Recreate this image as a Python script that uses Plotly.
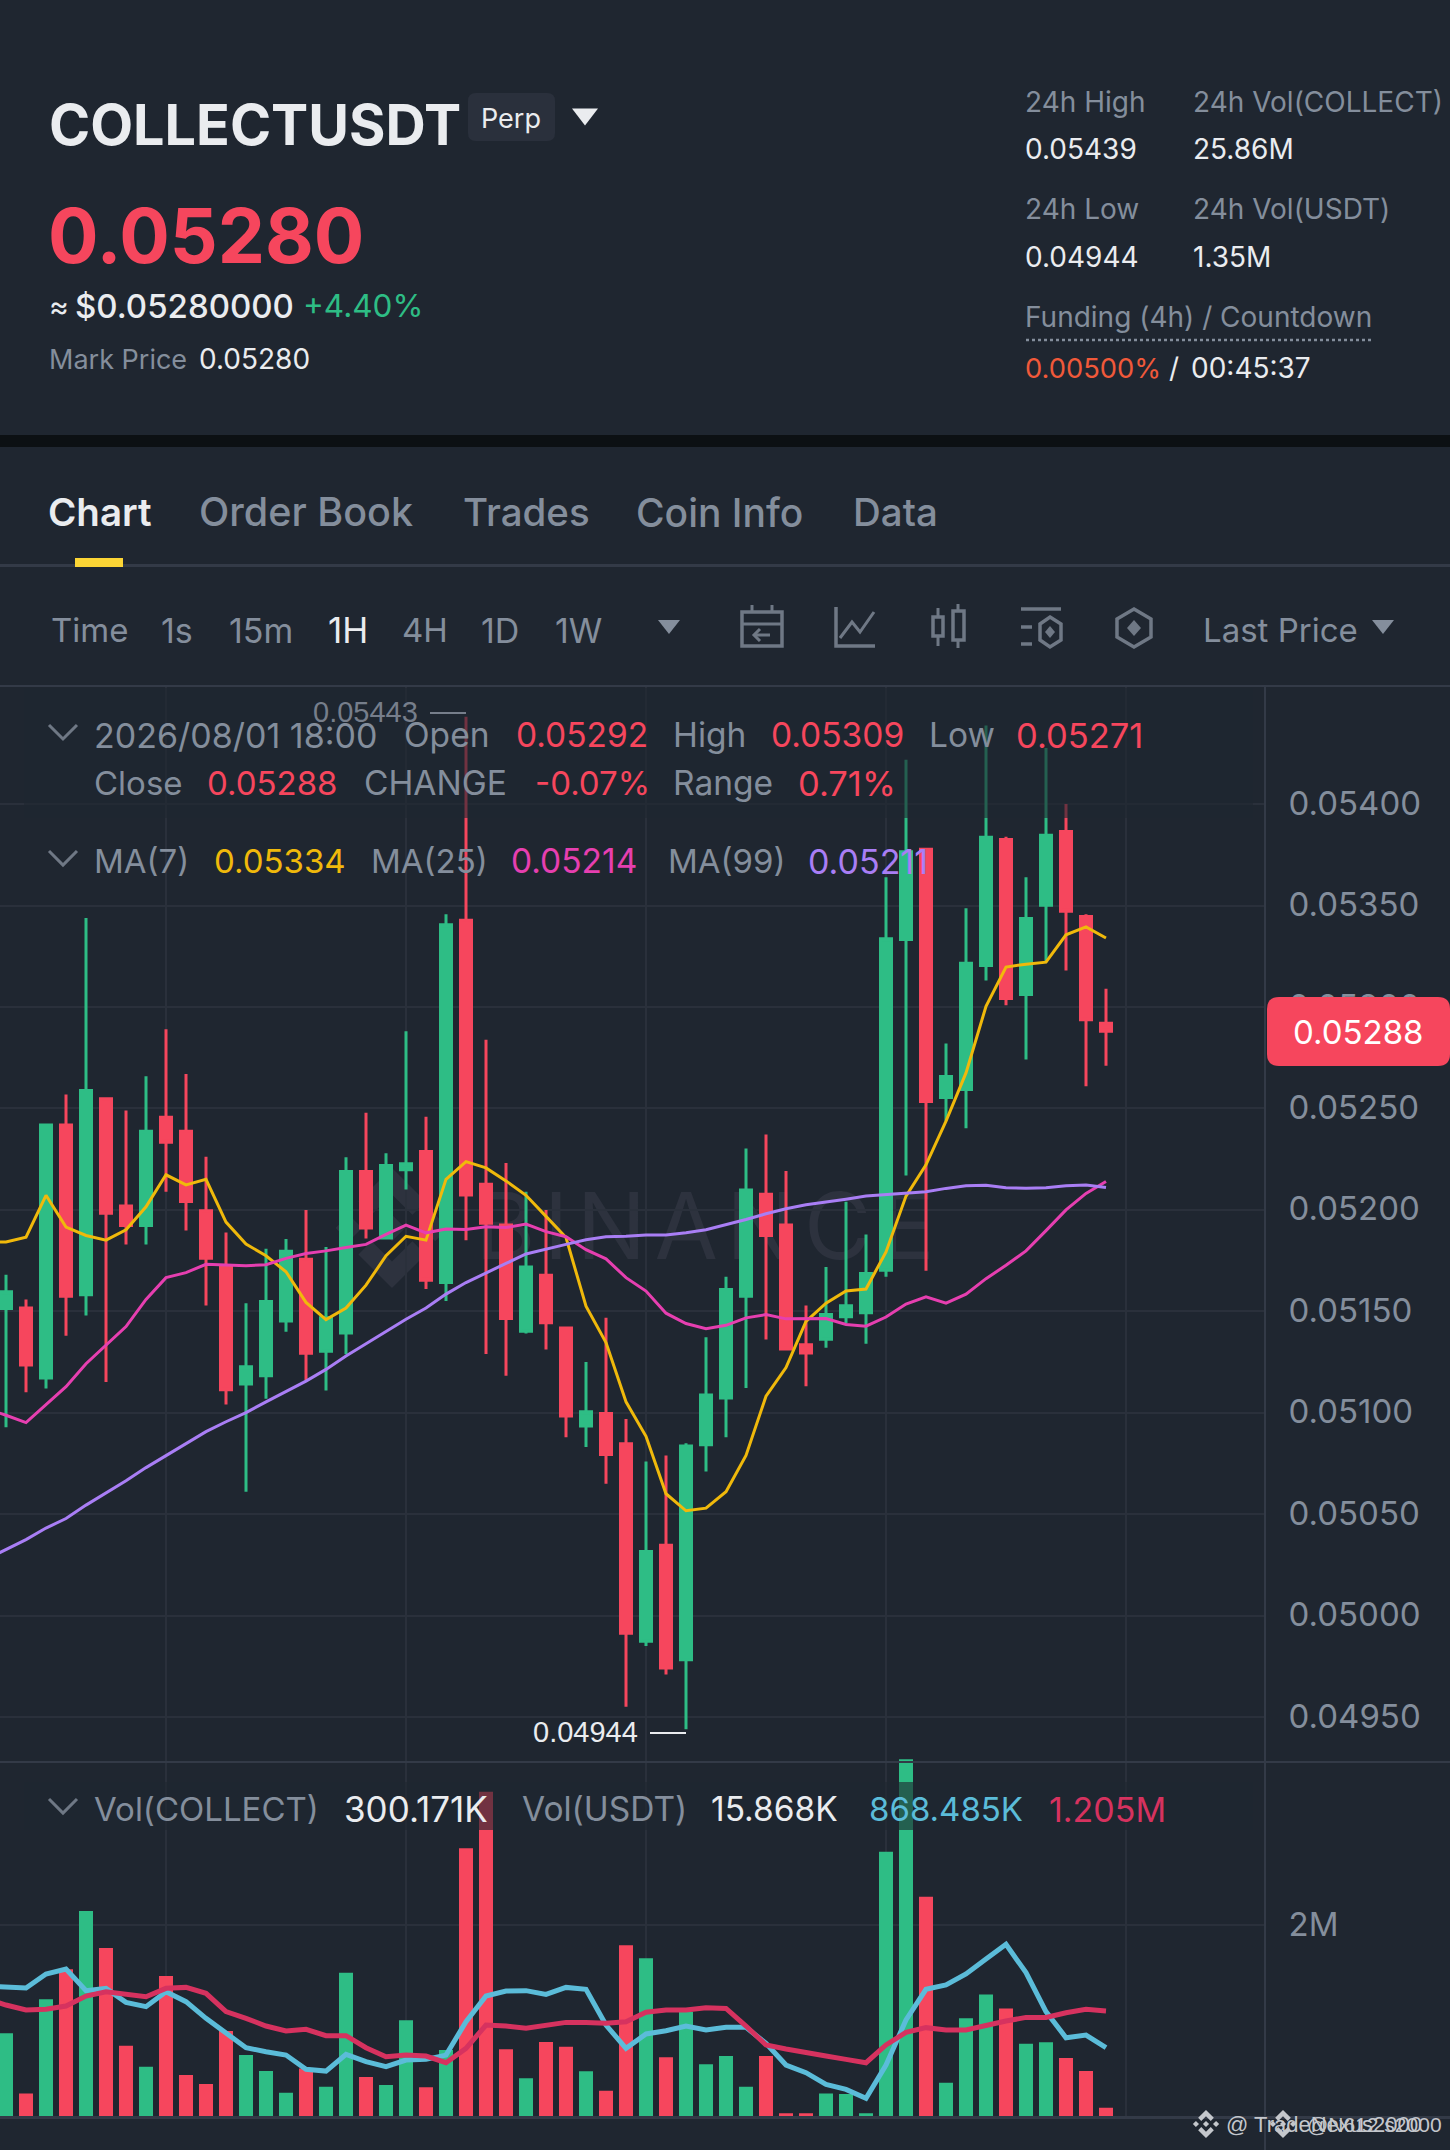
import plotly.graph_objects as go

# candle data
opens = [.051514, .051516, .051172, .052418, .051582, .052548, .052019, .051923, .052457, .052387, .051996, .051719, .051142, .051182,
         .051453, .051757, .051303, .051393, .052189, .051861, .052198, .052288, .051642, .053428, .052126, .051926, .051402, .051678,
         .051418, .050935, .050997, .050848, .049874, .050347, .049783, .050843, .051073, .051574, .052077, .051926, .051335, .051363,
         .051474, .051493, .051702, .053333, .053777, .052554, .052593, .053205, .053826, .053062, .053501, .053865, .053446, .05292]
highs = [.05168, .051559, .05242, .052569, .053439, .052548, .05249, .052659, .05289, .05267, .052262, .051889, .05154, .051808,
         .051857, .052, .051817, .05226, .052479, .052279, .05288, .052459, .053457, .05443, .052839, .052231, .05209, .052,
         .051418, .05125, .051468, .050969, .05076, .05079, .05085, .051372, .05167, .052302, .052372, .052192, .051529, .051719,
         .05204, .051879, .053639, .054219, .053777, .05282, .053487, .054387, .053839, .053639, .054277, .054, .053457, .05309]
lows = [.050929, .051101, .05112, .05138, .05148, .051152, .05183, .05183, .05209, .051898, .051529, .051041, .050611, .051069,
        .051399, .051161, .05111, .051289, .051859, .051861, .0521, .05161, .051551, .051851, .05129, .051182, .051391, .051312,
        .05088, .050831, .05065, .049551, .049851, .04971, .04944, .050711, .05088, .051122, .051361, .051314, .051131, .051321,
        .05144, .05134, .05167, .05217, .0517, .052438, .052402, .053131, .053009, .052741, .053221, .05318, .05261, .05271]
closes = [.051597, .051235, .052418, .051574, .052589, .051983, .051923, .052387, .052334, .052041, .051762, .051114, .051227, .051548,
          .051796, .051293, .051468, .052189, .051911, .052219, .052228, .051653, .053405, .052074, .051934, .051465, .051719, .051444,
          .050984, .051005, .050794, .049913, .050317, .049742, .050837, .051088, .051608, .052098, .051874, .051314, .051295, .051485,
          .051527, .051687, .053336, .053765, .052534, .052657, .053216, .053836, .053042, .053436, .053846, .053472, .052937, .05288]

# moving averages start one candle earlier, that candle is off the left edge
ma7 = [.05184, .051842, .051866, .052072, .051915, .051874, .051851, .051902, .052015, .052173, .052123, .052151, .05194, .051832, .051774,
       .051695, .051544, .051459, .051516, .051629, .051774, .05187, .051851, .052151, .052238, .052207, .052143, .052072, .051968,
       .051864, .051525, .051346, .051054, .050884, .050601, .050517, .05053, .050611, .05079, .051082, .051223, .05145, .05154,
       .0516, .05161, .051793, .052068, .052222, .052438, .052675, .053003, .053197, .053211, .053221, .053356, .053395, .05334]
ma25 = [.05102, .050988, .050952, .051039, .051129, .051242, .051336, .051425, .051559, .051666, .051691, .051732, .051729, .051725, .05173,
        .051761, .051785, .051798, .051815, .05183, .051879, .051925, .051887, .051906, .051904, .051917, .051913, .05193, .051893,
        .051868, .051804, .051759, .051666, .0516, .051491, .05144, .051414, .051431, .051468, .051484, .051463, .051465, .051465,
        .051435, .051427, .051472, .051536, .051572, .05154, .051585, .051661, .051727, .051798, .051898, .052, .052081, .05214]
ma99 = [.050277, .050324, .050375, .050432, .050479, .050545, .050605, .050665, .05073, .05079, .05085, .050907, .050956, .051001, .051054,
        .051107, .051156, .051214, .05128, .05134, .051401, .051461, .051516, .051585, .051642, .051691, .051736, .051783, .051808,
        .05183, .051853, .051868, .05187, .051876, .051876, .051887, .051902, .051926, .051953, .051981, .052006, .052025, .052038,
        .052053, .052068, .052075, .052085, .05209, .052106, .052119, .052121, .052109, .052107, .052109, .052119, .052123, .05211]

# volume in millions
volume = [.870, .243, 1.224, 1.537, 2.146, 1.760, .741, .522, 1.468, .435, .341, .894, .643, .476,
          .250, .504, .313, 1.503, .414, .330, 1.005, .306, .696, 2.800, 3.391, .703, .400, .779,
          .730, .473, .271, 1.788, 1.652, .619, 1.096, .546, .633, .313, .633, .035, .035, .243,
          .236, .035, 2.765, 3.728, 2.295, .355, 1.026, 1.276, 1.130, .762, .776, .612, .476, .094]
vol_ma_a = [1.363, 1.349, 1.343, 1.489, 1.541, 1.315, 1.339, 1.193, 1.148, 1.304, 1.200, 1.026, .870, .720, .678,
            .643, .494, .476, .650, .574, .522, .591, .598, .643, .991, 1.259, 1.311, 1.315, 1.276,
            1.349, 1.329, .956, .713, .863, .897, .946, .904, .932, .932, .765, .539, .459, .337,
            .285, .191, .539, 1.009, 1.329, 1.374, 1.489, 1.645, 1.798, 1.503, 1.096, .824, .852, .720]
vol_ma_b = [1.235, 1.165, 1.113, 1.120, 1.155, 1.259, 1.304, 1.276, 1.252, 1.339, 1.349, 1.287, 1.096, 1.026, .946,
            .894, .911, .845, .845, .720, .626, .643, .633, .563, .713, .956, .946, .922, .949,
            .984, .984, .974, .991, 1.089, 1.113, 1.113, 1.137, 1.130, .946, .748, .706, .675, .633,
            .598, .563, .748, .880, .929, .904, .904, .956, .998, 1.036, 1.036, 1.085, 1.120, 1.103]

price_ticks = [0.0495, 0.05, 0.0505, 0.051, 0.0515, 0.052, 0.0525, 0.053, 0.0535, 0.054]
time_ticks = [8, 20, 32, 44, 56]

W, H = 1450, 2150
BG = "#1F2630"
GREEN, RED = "#2EBD85", "#F6465D"
GREY = "#848E9C"
WHITE = "#EAECEF"
GRID = "#2A303B"
LINE = "#333A47"
FONT = "Inter"

candles = list(range(len(closes)))
ma_x = list(range(-1, len(closes)))
bar_colors = [GREEN if c >= o else RED for o, c in zip(opens, closes)]

fig = go.Figure()
fig.add_trace(go.Candlestick(x=candles, open=opens, high=highs, low=lows, close=closes, xaxis="x", yaxis="y",
                             increasing=dict(line=dict(color=GREEN, width=3), fillcolor=GREEN),
                             decreasing=dict(line=dict(color=RED, width=3), fillcolor=RED),
                             whiskerwidth=0))
for vals, col in [(ma7, "#F0B90B"), (ma25, "#E63FB0"), (ma99, "#A97EF5")]:
    fig.add_trace(go.Scatter(x=ma_x, y=vals, mode="lines", line=dict(color=col, width=3), xaxis="x", yaxis="y"))
fig.add_trace(go.Bar(x=candles, y=volume, marker=dict(color=bar_colors, line=dict(width=0)), width=0.7, xaxis="x2", yaxis="y2"))
fig.add_trace(go.Scatter(x=ma_x, y=vol_ma_a, mode="lines", line=dict(color="#5BBCD9", width=5), xaxis="x2", yaxis="y2"))
fig.add_trace(go.Scatter(x=ma_x, y=vol_ma_b, mode="lines", line=dict(color="#D6325F", width=5), xaxis="x2", yaxis="y2"))


def X(px):
    return px / W


def Y(py):
    return 1 - py / H


shapes = []
annots = []


def text(x, y, s, size, color=GREY, anchor="left", family=FONT, weight=400):
    annots.append(dict(xref="paper", yref="paper", x=X(x), y=Y(y), text=s, showarrow=False, xanchor=anchor, yanchor="middle",
                       borderpad=0, borderwidth=0, font=dict(family=family, size=size, color=color, weight=weight)))


def rect(x0, y0, x1, y1, color, layer="above"):
    shapes.append(dict(type="rect", xref="paper", yref="paper", x0=X(x0), y0=Y(y0), x1=X(x1), y1=Y(y1),
                       fillcolor=color, line=dict(width=0), layer=layer))


def path(pts, color=None, stroke=None, width=3, closed=False, layer="above"):
    d = "M" + " L".join(f"{X(a):.5f},{Y(b):.5f}" for a, b in pts) + (" Z" if closed else "")
    shapes.append(dict(type="path", xref="paper", yref="paper", path=d, fillcolor=color if color else "rgba(0,0,0,0)",
                       line=dict(color=stroke, width=width) if stroke else dict(width=0), layer=layer))


def rounded(x0, y0, x1, y1, r, color):
    d = (f"M{X(x0 + r)},{Y(y0)} L{X(x1 - r)},{Y(y0)} Q{X(x1)},{Y(y0)} {X(x1)},{Y(y0 + r)} L{X(x1)},{Y(y1 - r)} "
         f"Q{X(x1)},{Y(y1)} {X(x1 - r)},{Y(y1)} L{X(x0 + r)},{Y(y1)} Q{X(x0)},{Y(y1)} {X(x0)},{Y(y1 - r)} "
         f"L{X(x0)},{Y(y0 + r)} Q{X(x0)},{Y(y0)} {X(x0 + r)},{Y(y0)} Z")
    shapes.append(dict(type="path", xref="paper", yref="paper", path=d, fillcolor=color, line=dict(width=0), layer="above"))


def tri(cx, cy, w, h, color):
    path([(cx - w / 2, cy - h / 2), (cx + w / 2, cy - h / 2), (cx, cy + h / 2)], color=color, closed=True)


def logo(cx, cy, r, color, layer="above"):
    # binance mark: centre diamond, two side diamonds, top and bottom chevrons
    def diamond(x, y, s):
        path([(x, y - s), (x + s, y), (x, y + s), (x - s, y)], color=color, closed=True, layer=layer)
    diamond(cx, cy, r * 0.22)
    diamond(cx - r * 0.72, cy, r * 0.22)
    diamond(cx + r * 0.72, cy, r * 0.22)
    for sgn in (-1, 1):
        path([(cx, cy + sgn * r), (cx + r * 0.56, cy + sgn * r * 0.44), (cx + r * 0.34, cy + sgn * r * 0.22), (cx, cy + sgn * r * 0.56),
              (cx - r * 0.34, cy + sgn * r * 0.22), (cx - r * 0.56, cy + sgn * r * 0.44)], color=color, closed=True, layer=layer)


# page furniture
rect(0, 435, W, 447, "#0C1013")
rect(0, 564, W, 567, LINE)
rect(75, 558, 123, 567, "#FCD535")
rect(0, 685, W, 687, LINE)
rect(0, 1761, W, 1763, LINE)
rect(0, 2116, W, 2119, LINE)
rect(1264, 686, 1266, H, LINE)

# watermark under the candles
logo(392, 1228, 60, "#2D323E", layer="below")
shapes.append(dict(type="rect", xref="paper", yref="paper", x0=X(470), x1=X(940), y0=Y(1180), y1=Y(1265), line=dict(width=0),
                   fillcolor="rgba(0,0,0,0)", layer="below",
                   label=dict(text="B\u200aI\u200aN\u200aA\u200aN\u200aC\u200aE", font=dict(family=FONT, size=92, color="#2D323E"),
                              textposition="middle center")))

# legend strips dim whatever is under them
rect(24, 688, 1253, 818, "rgba(31,38,48,0.62)")
rect(24, 1782, 1253, 1830, "rgba(31,38,48,0.62)")

# header
text(49, 124, "COLLECTUSDT", 55.7, WHITE, weight=700)
rounded(468, 93, 555, 141, 8, "#2A303C")
text(511, 119, "Perp", 27, WHITE, anchor="center")
tri(585, 117, 26, 17, WHITE)
text(48, 235, "0.05280", 75, RED, weight=700)
text(49, 306, "≈", 30, WHITE)
text(75, 306, "$0.05280000", 33, WHITE, weight=500)
text(303, 306, "+4.40%", 31.5, GREEN)
text(49, 359, "Mark Price", 27)
text(199, 359, "0.05280", 28, WHITE)

text(1025, 102, "24h High", 28)
text(1193, 102, "24h Vol(COLLECT)", 28)
text(1025, 149, "0.05439", 28, WHITE)
text(1193, 149, "25.86M", 28, WHITE)
text(1025, 209, "24h Low", 28)
text(1193, 209, "24h Vol(USDT)", 28)
text(1025, 257, "0.04944", 28, WHITE)
text(1193, 257, "1.35M", 28, WHITE)
text(1025, 317, "Funding (4h) / Countdown", 28)
shapes.append(dict(type="line", xref="paper", yref="paper", x0=X(1026), x1=X(1371), y0=Y(340), y1=Y(340),
                   line=dict(color=GREY, width=2.5, dash="dot"), layer="above"))
text(1025, 368, "0.00500%", 27.3, "#F0593A")
text(1169, 368, "/", 28, WHITE)
text(1191, 368, "00:45:37", 28, WHITE)

# tabs
text(48, 512, "Chart", 38.5, WHITE, weight=600)
for s, x, size in [("Order Book", 199, 39.5), ("Trades", 463, 38.5), ("Coin Info", 636, 39), ("Data", 853, 38.5)]:
    text(x, 512, s, size, GREY, weight=500)

# interval row
for s, x, col, size in [("Time", 51, GREY, 33), ("1s", 161, GREY, 34), ("15m", 229, GREY, 34), ("1H", 328, WHITE, 35), ("4H", 402, GREY, 33),
                        ("1D", 481, GREY, 34), ("1W", 555, GREY, 34), ("Last Price", 1203, GREY, 33)]:
    text(x, 630, s, size, col)
tri(669, 627, 22, 14, GREY)
tri(1383, 627, 22, 14, GREY)

# toolbar icons
ic = "#6F7885"
path([(742, 612), (782, 612), (782, 646), (742, 646)], stroke=ic, closed=True, width=3.5)
path([(742, 624), (782, 624)], stroke=ic, width=3)
path([(752, 605), (752, 612)], stroke=ic, width=3)
path([(772, 605), (772, 612)], stroke=ic, width=3)
path([(770, 635), (754, 635)], stroke=ic, width=3)
path([(760, 629), (754, 635), (760, 641)], stroke=ic, width=3)
path([(836, 607), (836, 646), (875, 646)], stroke=ic, width=3.5)
path([(840, 638), (852, 622), (860, 632), (874, 612)], stroke=ic, width=3)
path([(933, 617), (943, 617), (943, 636), (933, 636)], stroke=ic, closed=True, width=3.5)
path([(953, 611), (964, 611), (964, 640), (953, 640)], stroke=ic, closed=True, width=3.5)
path([(938, 608), (938, 617)], stroke=ic)
path([(938, 636), (938, 646)], stroke=ic)
path([(958, 604), (958, 611)], stroke=ic)
path([(958, 640), (958, 648)], stroke=ic)
path([(1021, 609), (1061, 609)], stroke=ic, width=3.5)
path([(1021, 627), (1032, 627)], stroke=ic, width=3.5)
path([(1021, 644), (1032, 644)], stroke=ic, width=3.5)
path([(1050, 617), (1061, 624), (1061, 640), (1050, 647), (1040, 640), (1040, 624)], stroke=ic, closed=True, width=3.5)
path([(1050, 626), (1055, 632), (1050, 638), (1045, 632)], color=ic, closed=True)
path([(1134, 609), (1151, 619), (1151, 637), (1134, 647), (1117, 637), (1117, 619)], stroke=ic, closed=True, width=3.5)
path([(1134, 620), (1141, 628), (1134, 636), (1127, 628)], color=ic, closed=True)

# chart legend rows
chev = "#6F7885"
path([(49, 725), (63, 739), (77, 725)], stroke=chev, width=3)
path([(49, 851), (63, 865), (77, 851)], stroke=chev, width=3)
path([(49, 1799), (63, 1813), (77, 1799)], stroke=chev, width=3)
for s, x, col, size in [("2026/08/01 18:00", 94, GREY, 34), ("Open", 404, GREY, 33.5), ("0.05292", 516, RED, 33.5), ("High", 673, GREY, 33.5),
                        ("0.05309", 771, RED, 33.5), ("Low", 929, GREY, 33.5), ("0.05271", 1016, RED, 34.5)]:
    text(x, 735, s, size, col)
for s, x, col, size in [("Close", 94, GREY, 33), ("0.05288", 207, RED, 33), ("CHANGE", 364, GREY, 33.5), ("-0.07%", 535, RED, 33),
                        ("Range", 673, GREY, 33.5), ("0.71%", 798, RED, 34.5)]:
    text(x, 783, s, size, col)
for s, x, col, size in [("MA(7)", 94, GREY, 33), ("0.05334", 214, "#F0B90B", 33), ("MA(25)", 371, GREY, 33), ("0.05214", 511, "#E63FB0", 33.5),
                        ("MA(99)", 668, GREY, 33), ("0.05211", 808, "#A97EF5", 34)]:
    text(x, 861, s, size, col)
for s, x, col, size in [("Vol(COLLECT)", 94, GREY, 33), ("300.171K", 344, WHITE, 35), ("Vol(USDT)", 522, GREY, 33.5), ("15.868K", 711, WHITE, 33.5),
                        ("868.485K", 869, "#5BBCD9", 33), ("1.205M", 1049, "#D6325F", 34)]:
    text(x, 1809, s, size, col)

# hi / lo markers
text(313, 712, "0.05443", 29, "#767E8B", family="Liberation Sans")
rect(430, 712, 466, 714, "#767E8B")
text(533, 1732, "0.04944", 29, WHITE, family="Liberation Sans")
rect(650, 1732, 686, 1734, WHITE)

# last price tag
rounded(1267, 997, W, 1066, 12, RED)
text(1358, 1032, "0.05288", 33, "#FFFFFF", anchor="center")

# bottom right watermarks
logo(1206, 2124, 14, "#C4C7CC")
text(1226, 2124, "@ TradeNexus2000", 22, "#C4C7CC", family="Liberation Sans")
logo(1283, 2124, 14, "#C4C7CC")
text(1307, 2124, "@N612 s2000", 21, "#C4C7CC", family="Liberation Sans")

fig.update_layout(
    width=W, height=H, margin=dict(l=0, r=0, t=0, b=0), autosize=False,
    paper_bgcolor=BG, plot_bgcolor=BG, showlegend=False, boxgap=0.45, boxgroupgap=0,
    shapes=shapes, annotations=annots,
    xaxis=dict(domain=[0, 1265 / W], range=[-0.3, 62.95], tickvals=time_ticks, showticklabels=False, showgrid=True, gridcolor=GRID,
               gridwidth=2, zeroline=False, rangeslider=dict(visible=False), anchor="y"),
    xaxis2=dict(domain=[0, 1265 / W], range=[-0.3, 62.95], tickvals=time_ticks, showticklabels=False, showgrid=True, gridcolor=GRID,
                gridwidth=2, zeroline=False, anchor="y2"),
    yaxis=dict(domain=[Y(1762), Y(686)], range=[0.049279, 0.054582], side="right", anchor="x", tickvals=price_ticks,
               tickformat=".5f", showgrid=True, gridcolor=GRID, gridwidth=2, zeroline=False, ticks="outside", ticklen=16,
               tickcolor="rgba(0,0,0,0)", tickfont=dict(family=FONT, size=33, color=GREY), ticklabelshift=-1),
    yaxis2=dict(domain=[Y(2116.7), Y(1756)], range=[0, 3.763], side="right", anchor="x2", tickvals=[2], ticktext=["2M"],
                showgrid=True, gridcolor=GRID, gridwidth=2, zeroline=False, ticks="outside", ticklen=16,
                tickcolor="rgba(0,0,0,0)", tickfont=dict(family=FONT, size=33, color=GREY), ticklabelshift=-1),
)

fig.write_html("out.html", config={"displayModeBar": False}, post_script="document.body.style.margin='0';")
